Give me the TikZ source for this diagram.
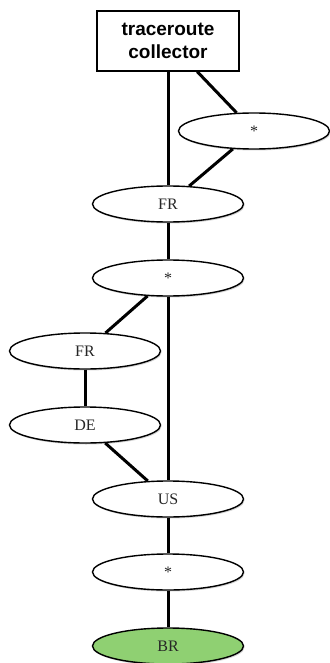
\documentclass[tikz,border=0pt]{standalone}
\usepackage{fontspec}
\setmainfont{Liberation Serif}
\newfontfamily\boxfont{Liberation Sans}
\usetikzlibrary{shapes.geometric,shadows}
\definecolor{brgreen}{RGB}{143,208,114}
\tikzset{
  hop/.style={ellipse, draw=black, line width=1.4pt, fill=white, minimum width=151pt, minimum height=36pt, inner sep=0pt,
    font=\fontsize{16}{18}\selectfont, text=black!85,
    drop shadow={opacity=0.35, shadow xshift=1pt, shadow yshift=-1.5pt}},
  collector/.style={rectangle, draw=black, line width=1.4pt, fill=white, minimum width=142pt, minimum height=60pt, inner sep=0pt,
    align=center, font=\boxfont\bfseries\fontsize{19}{23}\selectfont,
    drop shadow={opacity=0.35, shadow xshift=1pt, shadow yshift=-1.5pt}},
  link/.style={line width=3pt, draw=black}
}
\begin{document}
\begin{tikzpicture}[x=1pt,y=-1pt]
\useasboundingbox (0,0) rectangle (329,663);
\node[collector] (tc) at (168,41) {traceroute\\collector};
\node[hop] (s1) at (254,131) {*};
\node[hop] (fr1) at (168,204) {FR};
\node[hop] (s2) at (168,278) {*};
\node[hop] (fr2) at (85,351) {FR};
\node[hop] (de) at (85,425) {DE};
\node[hop] (us) at (168,499) {US};
\node[hop] (s3) at (168,572) {*};
\node[hop, fill=brgreen] (br) at (168,646) {BR};
\draw[link] (tc) -- (s1);
\draw[link] (s1) -- (fr1);
\draw[link] (tc) -- (fr1);
\draw[link] (fr1) -- (s2);
\draw[link] (s2) -- (fr2);
\draw[link] (s2) -- (us);
\draw[link] (fr2) -- (de);
\draw[link] (de) -- (us);
\draw[link] (us) -- (s3);
\draw[link] (s3) -- (br);
\end{tikzpicture}
\end{document}
